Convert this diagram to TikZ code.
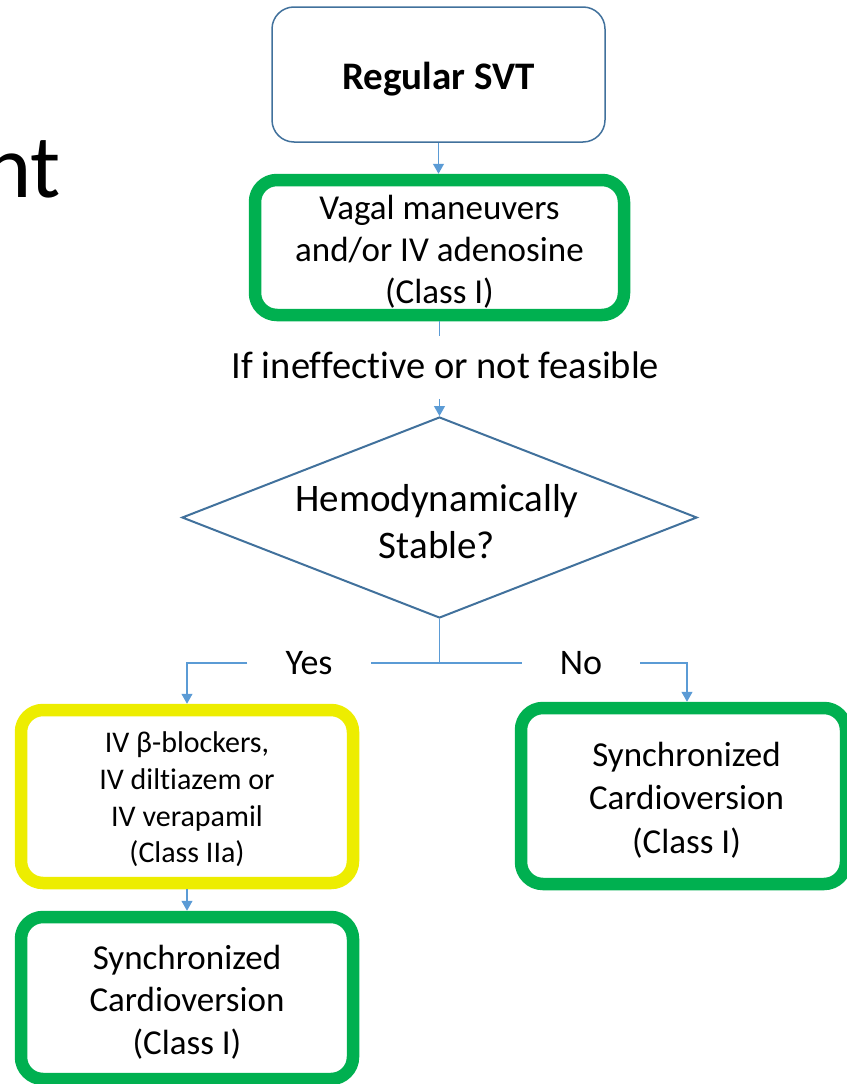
\documentclass[tikz,border=0pt]{standalone}
\usepackage{fontspec}
\setmainfont{Carlito}[Ligatures=NoCommon]
\usetikzlibrary{shapes.geometric,arrows.meta}
\definecolor{grn}{HTML}{00B050}
\definecolor{ylw}{HTML}{EDED00}
\definecolor{bdr}{HTML}{41719C}
\definecolor{cnn}{HTML}{5B9BD5}
\begin{document}
\begin{tikzpicture}[x=1pt,y=-1pt,
  conn/.style={draw=cnn,line width=1.2pt},
  arr/.style={conn,-{Triangle[width=11pt,length=10pt]}},
  box/.style={rectangle,rounded corners=22pt,fill=white,inner sep=0pt},
  gbox/.style={box,draw=grn,line width=12.5pt},
  ybox/.style={box,draw=ylw,line width=12.5pt},
  txt/.style={align=center,inner sep=0pt},
  lbl/.style={inner xsep=38pt,inner ysep=0pt,font=\fontsize{36}{43}\selectfont}]
\useasboundingbox (0,0) rectangle (846,1084);
\node[anchor=base east,inner sep=0pt,font=\fontsize{90}{90}\selectfont] (title) at (61,197) {nt};
% boxes
\node[box,draw=bdr,line width=1.5pt,minimum width=333pt,minimum height=135pt] (svt) at (438.5,74.5) {};
\node[gbox,minimum width=369pt,minimum height=135pt] (vagal) at (439.5,247.5) {};
\node[diamond,draw=bdr,line width=2pt,minimum width=515pt,minimum height=201pt,inner sep=0pt] (stab) at (439.5,517.5) {};
\node[ybox,minimum width=332pt,minimum height=173pt] (drugs) at (187,796.5) {};
\node[gbox,minimum width=332pt,minimum height=162pt] (cvl) at (187,998) {};
\node[gbox,minimum width=325pt,minimum height=176pt] (cvr) at (683.5,796) {};
% texts
\node[txt,font=\fontsize{39}{46}\selectfont\bfseries] (svtt) at ([yshift=-5pt]svt.center) {Regular SVT};
\node[txt,font=\fontsize{35}{42}\selectfont] (vagalt) at ([yshift=-4pt]vagal.center) {Vagal maneuvers\\and/or IV adenosine\\(Class I)};
\node[anchor=base,inner sep=0pt,text height=42pt,text depth=21pt,font=\fontsize{38.5}{46}\selectfont] (ifl) at (445.5,378) {If ineffective or not feasible};
\node[txt,font=\fontsize{39}{47}\selectfont] (stabt) at (437,522) {Hemodynamically\\Stable?};
\node[lbl] (yes) at (309,663) {Yes};
\node[lbl] (no) at (581,663) {No};
\node[txt,font=\fontsize{30}{36.7}\selectfont] (drugst) at ([yshift=-3pt]drugs.center) {IV β-blockers,\\IV diltiazem or\\IV verapamil\\(Class IIa)};
\node[txt,font=\fontsize{35}{42.5}\selectfont] (cvlt) at ([yshift=-4pt]cvl.center) {Synchronized\\Cardioversion\\(Class I)};
\node[txt,font=\fontsize{35}{43.5}\selectfont] (cvrt) at ([xshift=3pt,yshift=-4pt]cvr.center) {Synchronized\\Cardioversion\\(Class I)};
% connectors
\draw[arr] (svt.south) -- (svt.south |- vagal.north);
\draw[conn] (vagal.south) -- (vagal.south |- ifl.north);
\draw[arr] (stab.north |- ifl.south) -- (stab.north);
\draw[conn] (stab.south) |- (yes.east);
\draw[conn] (stab.south) |- (no.west);
\draw[arr] (yes.west) -| (drugs.north);
\draw[arr] (no.east) -| ([xshift=3.5pt]cvr.north);
\draw[arr] (drugs.south) -- (cvl.north);
\end{tikzpicture}
\end{document}
